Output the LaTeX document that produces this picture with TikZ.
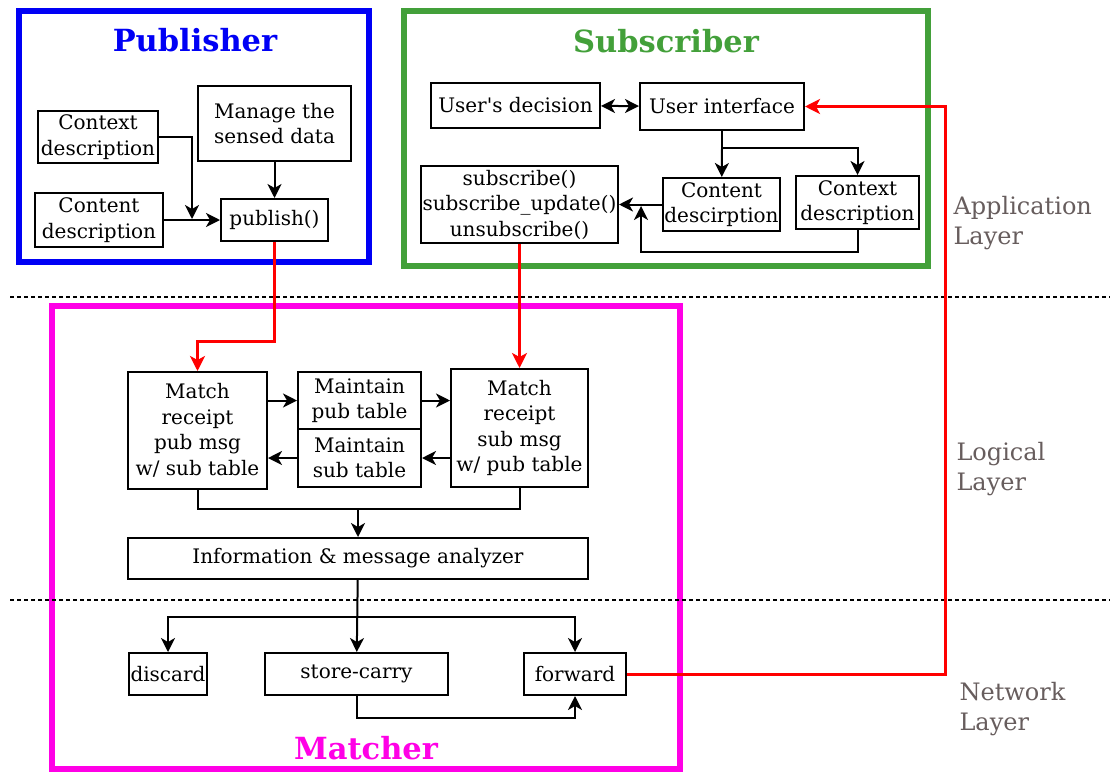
\documentclass[tikz,border=0pt]{standalone}
\usepackage{fontspec}
\setmainfont{DejaVu Serif}
\usetikzlibrary{arrows.meta}
\definecolor{pubblue}{RGB}{0,0,245}
\definecolor{subgreen}{RGB}{67,160,58}
\definecolor{matchpink}{RGB}{255,0,230}
\definecolor{layergray}{RGB}{103,93,93}

\tikzset{
  box/.style={draw,line width=2pt,inner sep=0pt,align=center,font=\fontsize{20}{25.5}\selectfont},
  arr/.style={line width=2pt,-{Stealth[length=14pt,width=14pt,inset=4pt]}},
  redarr/.style={line width=3pt,red,-{Stealth[length=15pt,width=15pt,inset=4pt]}},
  frame/.style={line width=5.5pt},
  title/.style={font=\fontsize{30.5}{32}\selectfont\bfseries},
  layer/.style={anchor=west,align=left,text=layergray,font=\fontsize{24}{30.5}\selectfont},
  layerline/.style={line width=2pt,dash pattern=on 4pt off 3pt}
}

\begin{document}
\begin{tikzpicture}[x=1pt,y=-1pt]
    \useasboundingbox (0,0) rectangle (1110,771);
    % frames
    \draw[frame,pubblue] (19,11) rectangle (369,262);
    \draw[frame,subgreen] (404,11) rectangle (928,266);
    \draw[frame,matchpink] (52,306) rectangle (680,769);
    \node[title,text=pubblue] at (195,40) (tpub) {Publisher};
    \node[title,text=subgreen] at (666,41) (tsubs) {Subscriber};
    \node[title,text=matchpink] at (366,748) (tmatch) {Matcher};

    % layers
    \draw[layerline] (10,297) -- (1110,297);
    \draw[layerline] (10,600) -- (1110,600);
    \node[layer] at (950,223) (lapp) {Application\\Layer};
    \node[layer] at (953,469) (llog) {Logical\\Layer};
    \node[layer] at (956,709) (lnet) {Network\\Layer};

    % publisher
    \node[box,minimum width=120pt,minimum height=52pt] at (98,137) (pctx) {Context\\description};
    \node[box,minimum width=128pt,minimum height=54pt] at (99,220) (pcnt) {Content\\description};
    \node[box,minimum width=153pt,minimum height=75pt] at (274.5,123.5) (manage) {Manage the\\sensed data};
    \node[box,minimum width=107pt,minimum height=42pt] at (274.5,220) (publish) {publish()};
    \coordinate (pjoin) at (192,219);
    \draw[arr] (pctx.east) -| (pjoin);
    \draw[arr] (pcnt) -- (publish);
    \draw[arr] (manage) -- (publish);

    % subscriber
    \node[box,minimum width=169pt,minimum height=45pt] at (515.5,105.5) (decision) {User\textquotesingle s decision};
    \node[box,minimum width=164pt,minimum height=47pt] at (722,106.5) (ui) {User interface};
    \node[box,minimum width=197pt,minimum height=77pt] at (519.5,204.5) (subs) {subscribe()\\subscribe\_update()\\unsubscribe()};
    \node[box,minimum width=117pt,minimum height=53pt] at (721.5,204.5) (scnt) {Content\\descirption};
    \node[box,minimum width=123pt,minimum height=53pt] at (857.5,202.5) (sctx) {Context\\description};
    \coordinate (uisplit) at (722,148);
    \coordinate (sjoin) at (641,206);
    \draw[line width=2pt,{Stealth[length=14pt,width=14pt,inset=4pt]}-{Stealth[length=14pt,width=14pt,inset=4pt]}] (decision) -- (ui);
    \draw[line width=2pt] (ui) -- (uisplit);
    \draw[arr] (uisplit) -- (scnt);
    \draw[arr] (uisplit) -| (sctx);
    \draw[arr] (scnt) -- (subs);
    \draw[arr] (sctx.south) -- ++(0,22) -| (sjoin);

    % matcher
    \node[box,minimum width=139pt,minimum height=117pt] at (197.5,430.5) (mpub) {Match\\receipt\\pub msg\\w/ sub table};
    \node[box,minimum width=123pt,minimum height=57pt] at (359.5,400.5) (tabpub) {Maintain\\pub table};
    \node[box,minimum width=123pt,minimum height=58pt] at (359.5,458) (tabsub) {Maintain\\sub table};
    \node[box,minimum width=137pt,minimum height=118pt] at (519.5,428) (msub) {Match\\receipt\\sub msg\\w/ pub table};
    \node[box,minimum width=460pt,minimum height=41pt] at (358,558.5) (analyzer) {Information \& message analyzer};
    \node[box,minimum width=78pt,minimum height=42pt] at (168,674) (discard) {discard};
    \node[box,minimum width=183pt,minimum height=42pt] at (356.5,674) (store) {store-carry};
    \node[box,minimum width=102pt,minimum height=42pt] at (575,674) (forward) {forward};
    \draw[arr] (mpub.east |- tabpub) -- (tabpub);
    \draw[arr] (tabpub) -- (msub.west |- tabpub);
    \draw[arr] (msub.west |- tabsub) -- (tabsub);
    \draw[arr] (tabsub) -- (mpub.east |- tabsub);
    \coordinate (mjoin) at (358,509);
    \draw[line width=2pt] (mpub.south) |- (mjoin) -| (msub.south);
    \draw[arr] (mjoin) -- (analyzer);
    \coordinate (asplit) at (357,617);
    \draw[arr] (analyzer) -- (store);
    \draw[arr] (asplit) -| (discard);
    \draw[arr] (asplit) -| (forward);
    \draw[arr] (store.south) -- ++(0,22) -| (forward.south);

    % red links between parts
    \coordinate (pbend) at (197.5,341);
    \coordinate (rturn) at (945,106.5);
    \draw[redarr] (publish.south) |- (pbend) -- (mpub.north);
    \draw[redarr] (subs.south) -- (msub.north);
    \draw[redarr] (forward.east) -| (rturn) -- (ui.east);
\end{tikzpicture}
\end{document}
